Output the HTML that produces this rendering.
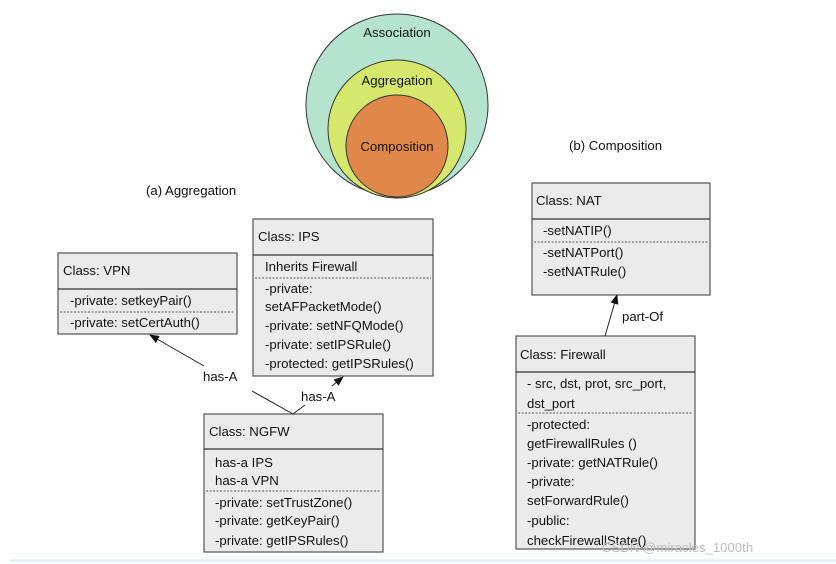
<!DOCTYPE html>
<html><head><style>body{margin:0;background:#fff}svg{display:block}text{font-family:"Liberation Sans",sans-serif;font-size:13.2px;fill:#111}</style></head>
<body>
<svg width="836" height="564" viewBox="0 0 836 564">
<defs><marker id="a" markerWidth="10" markerHeight="10" refX="9" refY="5" orient="auto" markerUnits="userSpaceOnUse"><path d="M0,1 L10,5 L0,9 z" fill="#111"/></marker></defs>
<circle cx="397" cy="105" r="91" fill="#b4e4cd" stroke="#333"/>
<circle cx="397" cy="129" r="69" fill="#d5e86c" stroke="#333"/>
<circle cx="397" cy="146" r="51" fill="#e0884a" stroke="#333"/>
<text x="397" y="37" text-anchor="middle" font-size="14">Association</text>
<text x="397" y="85" text-anchor="middle" font-size="14">Aggregation</text>
<text x="397" y="151" text-anchor="middle" font-size="14">Composition</text>
<text x="146" y="195">(a) Aggregation</text>
<text x="569" y="150">(b) Composition</text>
<g fill="#ebebeb" stroke="#555" stroke-width="1.2">
<rect x="58" y="253" width="179" height="81"/>
<rect x="253" y="219" width="180" height="157"/>
<rect x="204" y="414" width="179" height="138"/>
<rect x="532" y="183" width="178" height="112"/>
<rect x="516" y="336" width="179" height="213"/>
</g>
<g stroke="#333" stroke-width="1.3">
<line x1="58" y1="289" x2="237" y2="289"/>
<line x1="253" y1="255" x2="433" y2="255"/>
<line x1="204" y1="449" x2="383" y2="449"/>
<line x1="532" y1="219" x2="710" y2="219"/>
<line x1="516" y1="372" x2="695" y2="372"/>
</g>
<g stroke="#555" stroke-dasharray="2,1.5">
<line x1="60" y1="312" x2="235" y2="312"/>
<line x1="255" y1="278" x2="431" y2="278"/>
<line x1="206" y1="491" x2="381" y2="491"/>
<line x1="534" y1="242" x2="708" y2="242"/>
<line x1="518" y1="413" x2="693" y2="413"/>
</g>
<text x="63" y="275">Class: VPN</text>
<text x="70" y="305">-private: setkeyPair()</text>
<text x="70" y="327">-private: setCertAuth()</text>
<text x="258" y="241">Class: IPS</text>
<text x="265" y="271">Inherits Firewall</text>
<text x="265" y="293">-private:</text>
<text x="265" y="311">setAFPacketMode()</text>
<text x="265" y="330">-private: setNFQMode()</text>
<text x="265" y="349">-private: setIPSRule()</text>
<text x="265" y="368">-protected: getIPSRules()</text>
<text x="209" y="436">Class: NGFW</text>
<text x="215" y="467">has-a IPS</text>
<text x="215" y="485">has-a VPN</text>
<text x="215" y="507">-private: setTrustZone()</text>
<text x="215" y="525">-private: getKeyPair()</text>
<text x="215" y="545">-private: getIPSRules()</text>
<text x="536" y="205">Class: NAT</text>
<text x="543" y="235">-setNATIP()</text>
<text x="543" y="257">-setNATPort()</text>
<text x="543" y="276">-setNATRule()</text>
<text x="520" y="359">Class: Firewall</text>
<text x="527" y="388">- src, dst, prot, src_port,</text>
<text x="527" y="408">dst_port</text>
<text x="527" y="429">-protected:</text>
<text x="527" y="448">getFirewallRules ()</text>
<text x="527" y="467">-private: getNATRule()</text>
<text x="527" y="486">-private:</text>
<text x="527" y="505">setForwardRule()</text>
<text x="527" y="525">-public:</text>
<text x="527" y="545">checkFirewallState()</text>
<g stroke="#222" stroke-width="1">
<line x1="293" y1="414" x2="252" y2="391"/><line x1="204" y1="366" x2="150" y2="335" marker-end="url(#a)"/>
<line x1="293" y1="414" x2="305" y2="405"/><line x1="332" y1="386" x2="343" y2="377" marker-end="url(#a)"/>
<line x1="605" y1="336" x2="617" y2="295" marker-end="url(#a)"/>
</g>
<text x="203" y="381">has-A</text>
<text x="301" y="401">has-A</text>
<text x="622" y="321">part-Of</text>
<text x="602" y="552" font-size="18.5" style="fill:#bdbdbd">CSDN @miracles_1000th</text>
<line x1="10" y1="560.5" x2="836" y2="560.5" stroke="#d6ecf8" stroke-width="2"/>
</svg>
</body></html>
